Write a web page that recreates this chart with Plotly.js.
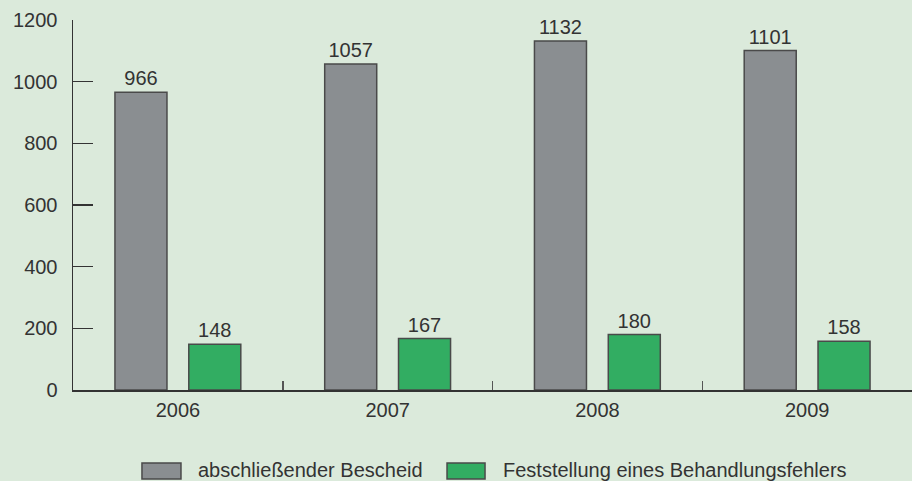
<!DOCTYPE html>
<html><head><meta charset="utf-8">
<script src="https://cdn.plot.ly/plotly-3.0.1.min.js"></script>
<style>html,body{margin:0;padding:0;background:#dbeadb;}</style>
</head><body>
<div id="chart" style="width:912px;height:481px;"></div>
<script>
const years = ['2006', '2007', '2008', '2009'];
const bescheid = [966, 1057, 1132, 1101];
const fehler = [148, 167, 180, 158];
const yTicks = [0, 200, 400, 600, 800, 1000, 1200];
const seriesNames = ['abschließender Bescheid', 'Feststellung eines Behandlungsfehlers'];
const seriesColors = ['#8a8e91', '#32ad62'];

const fontFam = '"Liberation Sans", Arial, sans-serif';
const txtColor = '#333333';
const edge = '#4a4a4a';

const traces = [
  {
    type: 'bar', name: seriesNames[0], x: years, y: bescheid,
    width: 0.248, offset: -0.3,
    marker: {color: seriesColors[0], line: {color: edge, width: 1.5}},
    text: bescheid.map(String), textposition: 'outside', cliponaxis: false,
    textfont: {family: fontFam, size: 20, color: txtColor},
    hoverinfo: 'none'
  },
  {
    type: 'bar', name: seriesNames[1], x: years, y: fehler,
    width: 0.248, offset: 0.052,
    marker: {color: seriesColors[1], line: {color: edge, width: 1.5}},
    text: fehler.map(String), textposition: 'outside', cliponaxis: false,
    textfont: {family: fontFam, size: 20, color: txtColor},
    hoverinfo: 'none'
  }
];

// custom legend (wide swatches like the reference)
const swX = [[0.0822, 0.1287], [0.4458, 0.4911]];
const txtX = [0.1466, 0.5101];
const shapes = seriesNames.map((n, i) => ({
  type: 'rect', xref: 'paper', yref: 'paper',
  x0: swX[i][0], x1: swX[i][1], y0: -0.2405, y1: -0.1973,
  fillcolor: seriesColors[i], line: {color: edge, width: 1.5}, layer: 'above'
}));
const annotations = seriesNames.map((n, i) => ({
  text: n, xref: 'paper', yref: 'paper', x: txtX[i], y: -0.2162,
  xanchor: 'left', yanchor: 'middle', showarrow: false,
  font: {family: fontFam, size: 20, color: txtColor}
}));

const layout = {
  width: 912, height: 481,
  paper_bgcolor: '#dbeadb', plot_bgcolor: '#dbeadb',
  margin: {l: 73, r: 0, t: 20, b: 91},
  font: {family: fontFam, size: 20, color: txtColor},
  barmode: 'overlay',
  showlegend: false,
  shapes: shapes,
  annotations: annotations,
  xaxis: {
    type: 'category', categoryorder: 'array', categoryarray: years,
    showline: true, linecolor: '#333', linewidth: 1.5,
    ticks: 'inside', tickson: 'boundaries', ticklen: 9, tickcolor: '#555', tickwidth: 1.5,
    showgrid: false, zeroline: false, fixedrange: true,
    ticklabelstandoff: 1,
    tickfont: {family: fontFam, size: 20, color: txtColor}
  },
  yaxis: {
    range: [0, 1200], tickvals: yTicks, ticktext: yTicks.map(String),
    showline: true, linecolor: '#333', linewidth: 1.5,
    ticks: 'inside', ticklen: 20, tickcolor: '#333', tickwidth: 1.5,
    showgrid: false, zeroline: false, fixedrange: true,
    ticklabelstandoff: 10,
    tickfont: {family: fontFam, size: 20, color: txtColor}
  }
};

Plotly.newPlot('chart', traces, layout, {staticPlot: true, displayModeBar: false});
</script>
</body></html>
